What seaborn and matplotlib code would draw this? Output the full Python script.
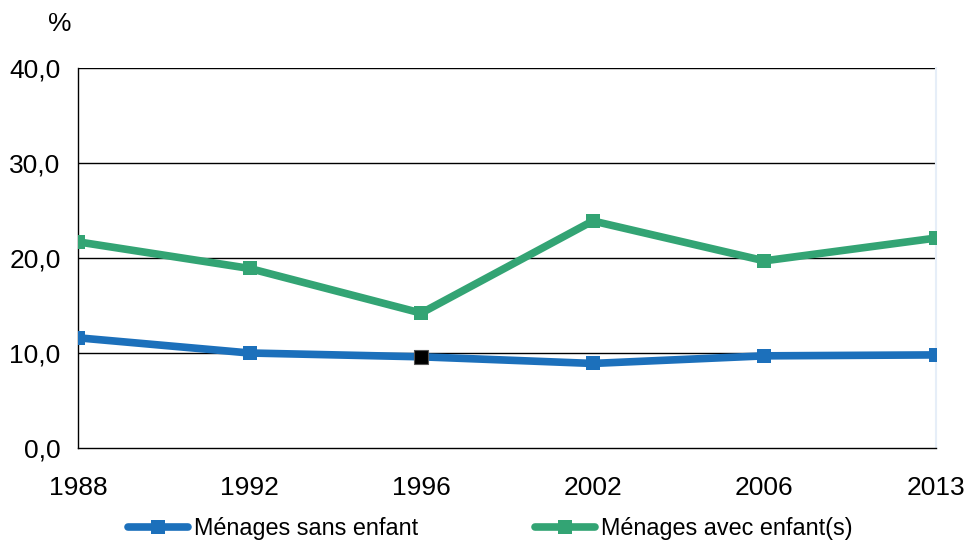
import matplotlib
matplotlib.use("Agg")
import matplotlib.pyplot as plt
import seaborn as sns
import pandas as pd
from matplotlib.lines import Line2D

years = ["1988", "1992", "1996", "2002", "2006", "2013"]
sans_enfant = [11.6, 10.0, 9.6, 8.9, 9.7, 9.8]
avec_enfant = [21.7, 18.9, 14.2, 23.9, 19.7, 22.1]
series_names = ["Ménages sans enfant", "Ménages avec enfant(s)"]
colors = ["#1c70bb", "#33a474"]
y_ticks = [0, 10, 20, 30, 40]

sns.set_theme(style="white")
plt.rcParams["font.family"] = ["Liberation Sans", "DejaVu Sans"]
plt.rcParams["text.color"] = "black"

pos = list(range(len(years)))
df = pd.DataFrame({
    "pos": pos * 2,
    "value": sans_enfant + avec_enfant,
    "serie": [series_names[0]] * len(years) + [series_names[1]] * len(years),
})

fig = plt.figure(figsize=(9.65, 5.41), dpi=100)
ax = fig.add_axes([78/965, 1 - 448/541, (936-78)/965, (448-68)/541])

sns.lineplot(data=df, x="pos", y="value", hue="serie", palette=colors,
             marker="s", markersize=10.5, markeredgewidth=0, linewidth=5.5,
             legend=False, ax=ax, zorder=3)
# black highlighted marker for 1996 (sans enfant)
ax.plot(pos[2], sans_enfant[2], marker="s", markersize=10, color="black",
        markeredgewidth=0.8, markeredgecolor="#555555", linestyle="none", zorder=4)

ax.set_xlim(0, len(years) - 1)
ax.set_ylim(0, 40)
ax.set_xticks(pos)
ax.set_xticklabels(years)
ax.set_yticks(y_ticks)
ax.set_yticklabels([f"{v:.1f}".replace(".", ",") for v in y_ticks])
ax.set_xlabel("")
ax.set_ylabel("")
for v in y_ticks[1:]:
    ax.axhline(v, color="black", linewidth=1, zorder=1)

ax.spines["top"].set_visible(False)
ax.spines["right"].set_color("#e6eef8")
ax.spines["right"].set_linewidth(1.5)
ax.spines["left"].set_color("black")
ax.spines["bottom"].set_color("black")
ax.spines["left"].set_linewidth(1)
ax.spines["bottom"].set_linewidth(1)
ax.tick_params(axis="both", which="both", direction="out", length=8, width=1,
               color="black", labelsize=19, labelcolor="black")
ax.tick_params(axis="y", pad=4.5)
ax.tick_params(axis="x", pad=12)

fig.text(60/965, 1 - 24/541, "%", fontsize=19, ha="center", va="center", color="black")

handles = [Line2D([0], [0], color=c, linewidth=5.5, marker="s", markersize=10.5,
                  markeredgewidth=0) for c in colors]
fig.legend(handles, series_names, loc="center", bbox_to_anchor=(0.508, 1 - 529/541),
           ncol=2, frameon=False, fontsize=16.8, columnspacing=5.0, handlelength=2.6,
           handletextpad=0.25, labelcolor="black")

fig.savefig("out.png", dpi=100)
